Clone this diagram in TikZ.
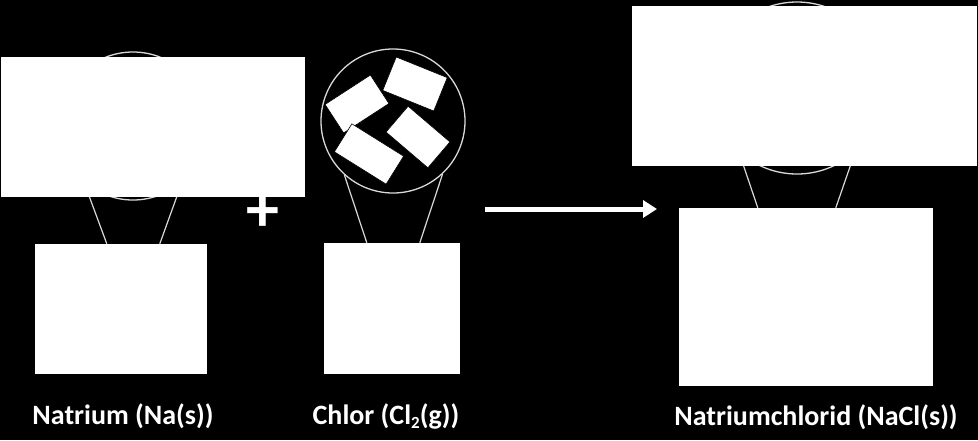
\documentclass[tikz,border=0pt]{standalone}
\usepackage{fontspec}
\setmainfont{Carlito}
\usetikzlibrary{arrows.meta,calc}
\tikzset{
  slab/.style={draw=white, fill=white, inner sep=0pt},
  lens/.style={circle, draw=white!85!black, line width=1.3pt, inner sep=0pt},
  zoomline/.style={draw=white!85!black, line width=1.2pt},
  crystal/.style={draw=black, fill=white, line width=0.6pt, inner sep=0pt, rotate=#1},
  caption/.style={text=white, font=\bfseries\fontsize{28}{30}\selectfont, anchor=base}
}
\newcommand{\lowtwo}{\raisebox{-0.3ex}{\fontsize{17}{17}\selectfont 2}}
\begin{document}
\begin{tikzpicture}[x=1pt, y=-1pt]
  \fill[black] (0,0) rectangle (978,440);
  \useasboundingbox (0,0) rectangle (978,440);
  % sodium
  \node[lens, minimum size=148pt] (lensNa) at (133, 126) {};
  \node[slab, minimum width=171pt, minimum height=129pt] (sampleNa) at (120.5, 308.5) {};
  \draw[zoomline] (lensNa.229) -- ($(sampleNa.north west)+(72,0)$);
  \draw[zoomline] (lensNa.311) -- ($(sampleNa.north west)+(125,0)$);
  \node[slab, minimum width=303pt, minimum height=139pt] (viewNa) at (152.5, 126.5) {};
  \node[caption] (labelNa) at (123, 424) {Natrium (Na(s))};
  % plus
  \node[text=white, font=\bfseries\fontsize{66}{66}\selectfont, inner sep=0pt] (plus) at (263, 213) {+};
  % chlorine
  \node[lens, minimum size=144pt] (lensCl) at (393, 121) {};
  \node[slab, minimum width=135pt, minimum height=130pt] (sampleCl) at (391.5, 308) {};
  \draw[zoomline] (lensCl.228) -- ($(sampleCl.north west)+(43,0)$);
  \draw[zoomline] (lensCl.313) -- ($(sampleCl.north west)+(96,0)$);
  \node[crystal=33, minimum width=54pt, minimum height=34pt] (mol1) at (357, 104) {};
  \node[crystal=-22, minimum width=55pt, minimum height=36pt] (mol2) at (415, 84) {};
  \node[crystal=-40.5, minimum width=55pt, minimum height=34pt] (mol4) at (418, 137) {};
  \node[crystal=-32, minimum width=61pt, minimum height=33pt] (mol3) at (369, 154) {};
  \node[caption] (labelCl) at (386, 424) {Chlor (Cl\lowtwo(g))};
  % reaction arrow
  \coordinate (arrowStart) at (485, 209);
  \coordinate (arrowEnd) at (657, 209);
  \draw[white, line width=5pt, -{Triangle[length=14pt, width=17pt]}] (arrowStart) -- (arrowEnd);
  % sodium chloride
  \node[lens, minimum size=172pt] (lensNaCl) at (797, 88) {};
  \node[slab, minimum width=253pt, minimum height=177pt] (sampleNaCl) at (805.5, 296.5) {};
  \draw[zoomline] (lensNaCl.228) -- ($(sampleNaCl.north west)+(79,0)$);
  \draw[zoomline] (lensNaCl.312) -- ($(sampleNaCl.north west)+(157,0)$);
  \node[slab, minimum width=344pt, minimum height=159pt] (viewNaCl) at (804, 85.5) {};
  \node[caption] (labelNaCl) at (816, 425) {Natriumchlorid (NaCl(s))};
\end{tikzpicture}
\end{document}
